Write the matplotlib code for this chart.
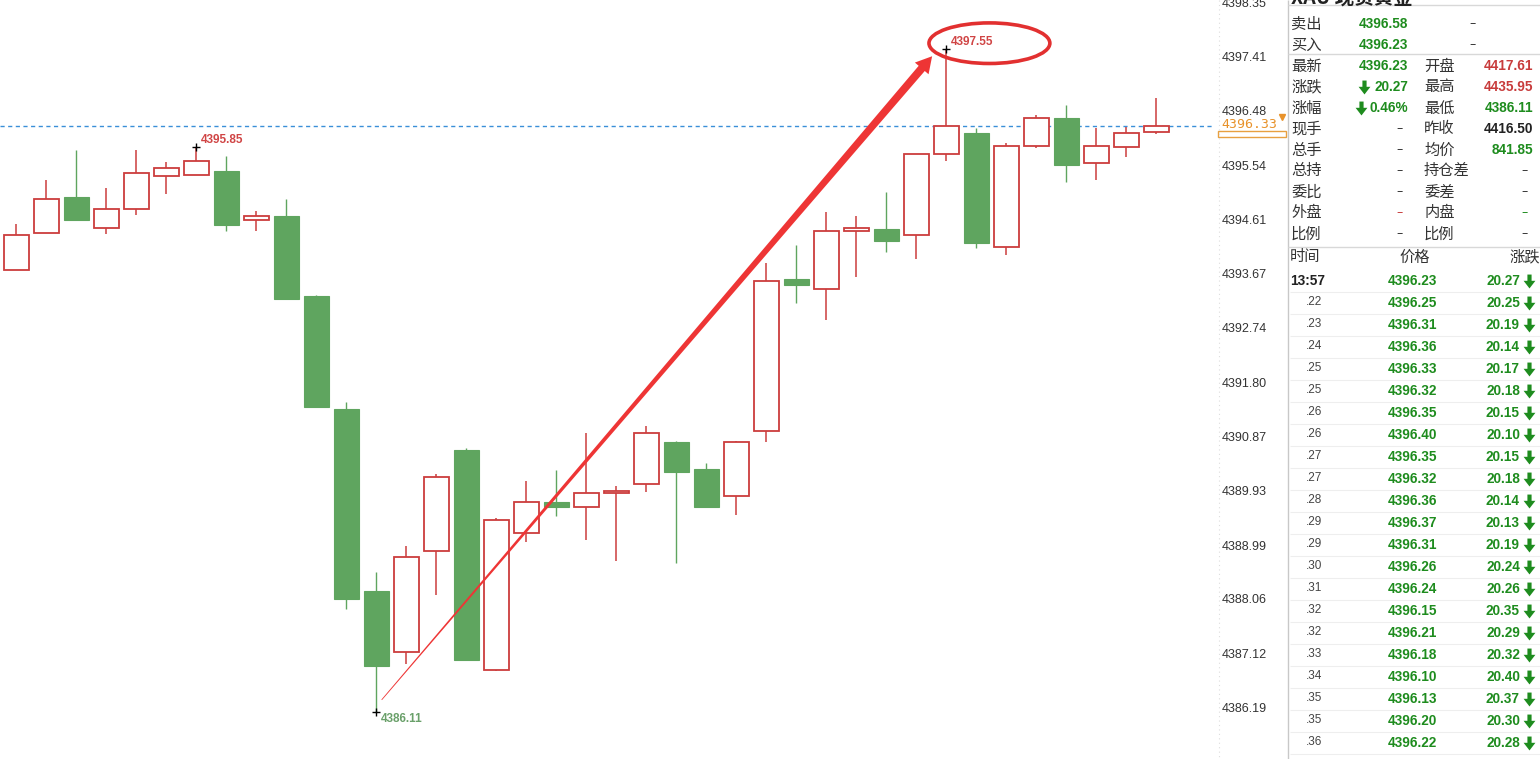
import numpy as np
import matplotlib
matplotlib.use("Agg")
import matplotlib.pyplot as plt
from matplotlib.patches import Ellipse, Rectangle, Polygon
from matplotlib.path import Path

# ---- candle data ----
opens = [4393.74, 4394.38, 4394.99, 4394.45, 4394.79, 4395.35, 4395.38, 4395.44, 4394.59, 4394.66,
         4393.28, 4391.33, 4388.20, 4387.14, 4388.88, 4390.63, 4386.83, 4389.19, 4389.74, 4389.64,
         4389.88, 4390.05, 4390.77, 4390.30, 4389.83, 4390.95, 4393.57, 4393.40, 4394.40, 4394.44,
         4394.33, 4395.74, 4396.09, 4394.13, 4395.87, 4396.35, 4395.58, 4395.86, 4396.12]
highs = [4394.52, 4395.28, 4395.80, 4395.14, 4395.80, 4395.59, 4395.85, 4395.70, 4394.75, 4394.96,
         4393.30, 4391.46, 4388.52, 4388.98, 4390.21, 4390.66, 4389.45, 4390.09, 4390.28, 4390.93,
         4390.00, 4391.04, 4390.78, 4390.41, 4390.78, 4393.86, 4394.16, 4394.73, 4394.66, 4395.08,
         4395.74, 4397.55, 4396.18, 4395.92, 4396.40, 4396.58, 4396.18, 4396.20, 4396.70]
lows = [4393.74, 4394.38, 4394.59, 4394.35, 4394.69, 4395.05, 4395.38, 4394.41, 4394.41, 4393.24,
        4391.37, 4387.89, 4386.11, 4386.93, 4388.12, 4387.00, 4386.81, 4389.05, 4389.49, 4389.08,
        4388.72, 4389.90, 4388.68, 4389.65, 4389.50, 4390.77, 4393.16, 4392.87, 4393.62, 4394.05,
        4393.92, 4395.61, 4394.11, 4394.00, 4395.83, 4395.25, 4395.28, 4395.68, 4396.08]
closes = [4394.33, 4394.95, 4394.59, 4394.79, 4395.40, 4395.50, 4395.62, 4394.51, 4394.66, 4393.24,
          4391.37, 4388.06, 4386.91, 4388.78, 4390.16, 4387.00, 4389.42, 4389.74, 4389.65, 4389.88,
          4389.92, 4390.93, 4390.25, 4389.65, 4390.76, 4393.54, 4393.48, 4394.40, 4394.46, 4394.24,
          4395.73, 4396.21, 4394.20, 4395.87, 4396.35, 4395.55, 4395.87, 4396.09, 4396.21]

y_ticks = [4398.35, 4397.41, 4396.48, 4395.54, 4394.61, 4393.67, 4392.74,
           4391.80, 4390.87, 4389.93, 4388.99, 4388.06, 4387.12, 4386.19]
last_price = 4396.22
marked = [(6, 4395.85, 'high'), (31, 4397.55, 'high'), (12, 4386.11, 'low')]

# ---- quote panel data ----
title = 'XAU 现货黄金'
bidask_names = ['卖出', '买入']
bidask_values = ['4396.58', '4396.23']
left_names = ['最新', '涨跌', '涨幅', '现手', '总手', '总持', '委比', '外盘', '比例']
left_values = ['4396.23', '20.27', '0.46%', '–', '–', '–', '–', '–', '–']
right_names = ['开盘', '最高', '最低', '昨收', '均价', '持仓差', '委差', '内盘', '比例']
right_values = ['4417.61', '4435.95', '4386.11', '4416.50', '841.85', '–', '–', '–', '–']
table_header = ['时间', '价格', '涨跌']
tick_times = ['13:57', '.22', '.23', '.24', '.25', '.25', '.26', '.26', '.27', '.27', '.28',
              '.29', '.29', '.30', '.31', '.32', '.32', '.33', '.34', '.35', '.35', '.36']
tick_prices = [4396.23, 4396.25, 4396.31, 4396.36, 4396.33, 4396.32, 4396.35, 4396.40, 4396.35,
               4396.32, 4396.36, 4396.37, 4396.31, 4396.26, 4396.24, 4396.15, 4396.21, 4396.18,
               4396.10, 4396.13, 4396.20, 4396.22]
tick_changes = [20.27, 20.25, 20.19, 20.14, 20.17, 20.18, 20.15, 20.10, 20.15, 20.18, 20.14,
                20.13, 20.19, 20.24, 20.26, 20.35, 20.29, 20.32, 20.40, 20.37, 20.30, 20.28]

RED = '#cc3d3d'
GREEN = '#5fa55f'
PGREEN = '#1e8c1e'
PRED = '#c83c3c'
CJK = ['Noto Sans CJK SC', 'DejaVu Sans']
NUM = 'Liberation Sans'
NUMSIZE = 9.8

fig = plt.figure(figsize=(15.4, 7.59), dpi=100)
fig.patch.set_facecolor('white')

# ---- candlestick axes ----
ax = fig.add_axes([0, 0, 1215 / 1540, 1])
ax.set_xlim(-0.543, 39.96)
ax.set_ylim(4385.30, 4398.39)
for s in ax.spines.values():
    s.set_visible(False)
ax.set_xticks([])
ax.yaxis.tick_right()
ax.set_yticks(y_ticks)
ax.set_yticklabels([f'{v:.2f}' for v in y_ticks])
ax.tick_params(axis='y', length=0, pad=5, labelsize=9, labelcolor='#333333')
for lbl in ax.get_yticklabels():
    lbl.set_fontfamily('Liberation Sans')

x = np.arange(len(opens))
o = np.array(opens); h = np.array(highs); l = np.array(lows); c = np.array(closes)
up = c >= o
w = 0.82

ax.vlines(x[up], l[up], h[up], color=RED, lw=1.1, zorder=2)
ax.vlines(x[~up], l[~up], h[~up], color=GREEN, lw=1.0, zorder=2)
ax.bar(x[up], c[up] - o[up], bottom=o[up], width=w, facecolor='white',
       edgecolor=RED, linewidth=1.3, zorder=3)
ax.bar(x[~up], o[~up] - c[~up], bottom=c[~up], width=w, facecolor=GREEN,
       edgecolor=GREEN, linewidth=0.8, zorder=3)

ax.axhline(last_price, color='#3a8fd8', lw=1.0, ls=(0, (3, 2.5)), zorder=1)

for i, v, kind in marked:
    ax.plot(i, v, marker='+', color='black', ms=6, mew=1.0, zorder=5)
    if kind == 'high':
        ax.text(i + 0.16, v + 0.12, f'{v:.2f}', color='#d04545', fontsize=8.5,
                fontfamily='Liberation Sans', fontweight='bold', va='center', ha='left')
    else:
        ax.text(i + 0.16, v - 0.12, f'{v:.2f}', color='#6aa06a', fontsize=8.5,
                fontfamily='Liberation Sans', fontweight='bold', va='center', ha='left')

ax.add_patch(Ellipse((32.44, 4397.645), 4.03, 0.70, facecolor='none',
                     edgecolor='#e23030', lw=2.6, zorder=6))

# ---- overlay in pixel coordinates ----
ov = fig.add_axes([0, 0, 1, 1])
ov.set_xlim(0, 1540)
ov.set_ylim(759, 0)
ov.axis('off')
ov.patch.set_alpha(0)

# tapered hand-drawn arrow from the low towards the high
def to_px(xd, yd):
    dx, dy = ax.transData.transform((xd, yd))
    return np.array([dx, 759 - dy])

S = to_px(12.18, 4386.32)
T = to_px(30.53, 4397.42)
d = (T - S) / np.hypot(*(T - S))
n = np.array([-d[1], d[0]])
B = T - 16 * d
arrow_pts = [S + 0.4 * n, B + 4 * n, B + 9 * n, T, B - 9 * n, B - 4 * n, S - 0.4 * n]
ov.add_patch(Polygon(arrow_pts, closed=True, facecolor='#ee3535', edgecolor='none', zorder=6))

ov.vlines(1219, 0, 759, color='#dddddd', lw=0.8, ls=(0, (1, 3)))
ov.add_patch(Rectangle((1218, 131), 68, 6, facecolor='white', edgecolor='#e8a040', lw=1.0))
ov.text(1221, 125, '4396.33', color='#e8922a', fontsize=9.5, fontfamily='DejaVu Sans Mono',
        va='center', ha='left')
ov.plot(1282, 117, marker='v', color='#e8922a', ms=4)
ov.vlines(1288, 0, 759, color='#c8c8c8', lw=1.0)

# panel
ov.text(1291, -2, title, fontsize=14, fontweight='bold', family=CJK, color='#222222',
        va='center', ha='left')
for yy in [4.5, 54, 246.5]:
    ov.hlines(yy, 1288, 1540, color='#d8d8d8', lw=1.0)

def down_arrow(xc, yc, size=10):
    arr = Path([(-0.3, 1), (0.3, 1), (0.3, 0.1), (0.85, 0.1), (0, -1), (-0.85, 0.1), (-0.3, 0.1), (-0.3, 1)],
               [Path.MOVETO] + [Path.LINETO] * 6 + [Path.CLOSEPOLY])
    ov.plot(xc, yc, marker=arr, color=PGREEN, ms=size, mew=0)

for k, (nm, v) in enumerate(zip(bidask_names, bidask_values)):
    yy = 24 + k * 21
    ov.text(1291, yy, nm, fontsize=11, family=CJK, color='#333333', va='center', ha='left')
    ov.text(1408, yy, v, fontsize=NUMSIZE, family=NUM, fontweight='bold', color=PGREEN,
            va='center', ha='right')
    ov.text(1473, yy, '–', fontsize=9, family='DejaVu Sans', color='#333333', va='center', ha='center')

left_colors = [PGREEN, PGREEN, PGREEN, '#333333', '#333333', '#333333', '#333333', PRED, '#333333']
right_colors = [PRED, PRED, PGREEN, '#222222', PGREEN, '#333333', '#333333', PGREEN, '#333333']
for k in range(len(left_names)):
    yy = 66 + k * 21
    ov.text(1291, yy, left_names[k], fontsize=11, family=CJK, color='#333333', va='center', ha='left')
    ov.text(1424, yy, right_names[k], fontsize=11, family=CJK, color='#333333', va='center', ha='left')
    lv = left_values[k]
    if lv == '–':
        ov.text(1400, yy, lv, fontsize=9, family='DejaVu Sans', color=left_colors[k],
                va='center', ha='center')
    else:
        ov.text(1408, yy, lv, fontsize=NUMSIZE, family=NUM, fontweight='bold', color=left_colors[k],
                va='center', ha='right')
    if k in (1, 2):
        down_arrow(1364 if k == 1 else 1361, yy)
    rv = right_values[k]
    if rv == '–':
        ov.text(1525, yy, rv, fontsize=9, family='DejaVu Sans', color=right_colors[k],
                va='center', ha='center')
    else:
        ov.text(1533, yy, rv, fontsize=NUMSIZE, family=NUM, fontweight='bold', color=right_colors[k],
                va='center', ha='right')

ov.text(1290, 257, table_header[0], fontsize=11, family=CJK, color='#333333', va='center', ha='left')
ov.text(1415, 257, table_header[1], fontsize=11, family=CJK, color='#333333', va='center', ha='center')
ov.text(1540, 257, table_header[2], fontsize=11, family=CJK, color='#333333', va='center', ha='right')

for k, (t, p, ch) in enumerate(zip(tick_times, tick_prices, tick_changes)):
    yy = 281 + k * 22
    if k == 0:
        ov.text(1290, yy, t, fontsize=NUMSIZE, family=NUM, fontweight='bold', color='#222222',
                va='center', ha='left')
    else:
        ov.text(1306, yy - 1, t, fontsize=8.5, family='Liberation Sans', color='#444444',
                va='center', ha='left')
    ov.text(1437, yy, f'{p:.2f}', fontsize=NUMSIZE, family=NUM, fontweight='bold', color=PGREEN,
            va='center', ha='right')
    ov.text(1520, yy, f'{ch:.2f}', fontsize=NUMSIZE, family=NUM, fontweight='bold', color=PGREEN,
            va='center', ha='right')
    down_arrow(1529, yy)
    ov.hlines(yy + 11, 1290, 1540, color='#eeeeee', lw=0.8)

fig.savefig('out.png', dpi=100, facecolor='white')
